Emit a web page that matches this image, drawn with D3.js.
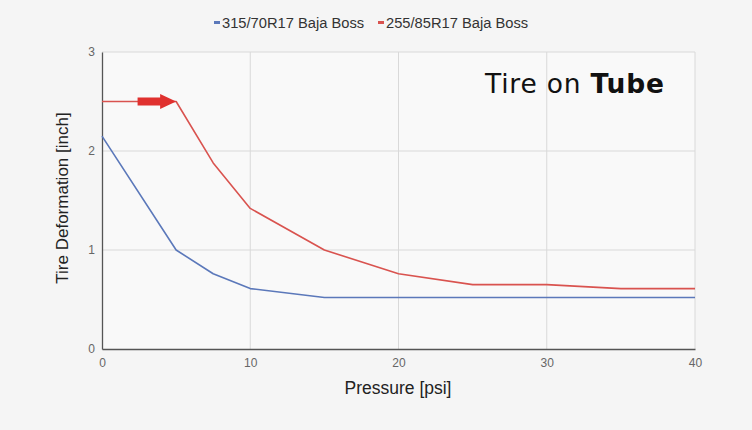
<!DOCTYPE html>
<html><head><meta charset="utf-8">
<script src="https://cdn.jsdelivr.net/npm/d3@7"></script>
<style>
html,body{margin:0;padding:0;background:#f5f5f5;}
svg{display:block;}
</style></head>
<body>
<svg id="chart" width="752" height="430"></svg>
<script>
const pressure = [0, 5, 7.5, 10, 15, 20, 25, 30, 35, 40];
const blueSeries = [2.15, 1.0, 0.76, 0.61, 0.52, 0.52, 0.52, 0.52, 0.52, 0.52];
const redSeries = [2.5, 2.5, 1.88, 1.42, 1.0, 0.76, 0.65, 0.65, 0.61, 0.61];
const seriesNames = ["315/70R17 Baja Boss", "255/85R17 Baja Boss"];
const seriesColors = ["#5b78ba", "#d9534f"];
const xTicks = [0, 10, 20, 30, 40];
const yTicks = [0, 1, 2, 3];
const arrowFrom = 2.4, arrowTo = 5, arrowValue = 2.5;

const svg = d3.select("#chart");
const x = d3.scaleLinear().domain([0, 40]).range([102, 695]);
const y = d3.scaleLinear().domain([0, 3]).range([349, 52]);
const FONT = "Liberation Sans, Arial, sans-serif";

svg.append("rect").attr("x", 102).attr("y", 52).attr("width", 593).attr("height", 297).attr("fill", "#f9f9f9");

svg.append("g").selectAll("line").data(yTicks.filter(d => d > 0)).join("line")
  .attr("x1", x(0)).attr("x2", x(40)).attr("y1", d => y(d)).attr("y2", d => y(d))
  .attr("stroke", "#d9d9d9").attr("stroke-width", 1);
svg.append("g").selectAll("line").data(xTicks.filter(d => d > 0)).join("line")
  .attr("x1", d => x(d)).attr("x2", d => x(d)).attr("y1", y(0)).attr("y2", y(3))
  .attr("stroke", "#d9d9d9").attr("stroke-width", 1);

const xAxis = svg.append("g").attr("transform", `translate(0,${y(0)})`)
  .call(d3.axisBottom(x).tickValues(xTicks).tickFormat(d3.format("d")).tickSize(0).tickPadding(9));
const yAxis = svg.append("g").attr("transform", `translate(${x(0)},0)`)
  .call(d3.axisLeft(y).tickValues(yTicks).tickFormat(d3.format("d")).tickSize(0).tickPadding(7));
[xAxis, yAxis].forEach(a => {
  a.select(".domain").attr("stroke", "#555").attr("stroke-width", 1.3);
  a.selectAll("text").attr("font-family", FONT).attr("font-size", 12).attr("fill", "#666");
});

const line = d3.line().x((d, i) => x(pressure[i])).y(d => y(d));
[blueSeries, redSeries].forEach((s, i) => {
  svg.append("path").datum(s).attr("d", line).attr("fill", "none")
    .attr("stroke", seriesColors[i]).attr("stroke-width", 1.6).attr("stroke-linejoin", "round");
});

const ay = y(arrowValue);
const ax0 = x(arrowFrom), ax1 = x(arrowTo);
const headLen = 16;
svg.append("path")
  .attr("d", `M${ax0},${ay - 4} L${ax1 - headLen},${ay - 4} L${ax1 - headLen},${ay - 7.5} L${ax1},${ay} L${ax1 - headLen},${ay + 7.5} L${ax1 - headLen},${ay + 4} L${ax0},${ay + 4} Z`)
  .attr("fill", "#e0312f");

svg.append("text").attr("x", 398).attr("y", 394).attr("text-anchor", "middle")
  .attr("font-family", FONT).attr("font-size", 17.5).attr("fill", "#222")
  .text("Pressure [psi]");
svg.append("text").attr("transform", "translate(68,198) rotate(-90)").attr("text-anchor", "middle")
  .attr("font-family", FONT).attr("font-size", 17).attr("fill", "#222")
  .text("Tire Deformation [inch]");

const legendX = [214, 378];
seriesNames.forEach((n, i) => {
  svg.append("rect").attr("x", legendX[i]).attr("y", 21).attr("width", 6).attr("height", 3).attr("fill", seriesColors[i]);
  svg.append("text").attr("x", legendX[i] + 8).attr("y", 28)
    .attr("font-family", FONT).attr("font-size", 14.7).attr("fill", "#333")
    .text(n);
});

const t = svg.append("text").attr("x", 485).attr("y", 93)
  .attr("font-family", "DejaVu Sans, sans-serif").attr("font-size", 26.5)
  .attr("letter-spacing", 0.8).attr("fill", "#111");
t.append("tspan").attr("font-weight", 400).text("Tire on ");
t.append("tspan").attr("font-weight", 700).text("Tube");
</script>
</body></html>
